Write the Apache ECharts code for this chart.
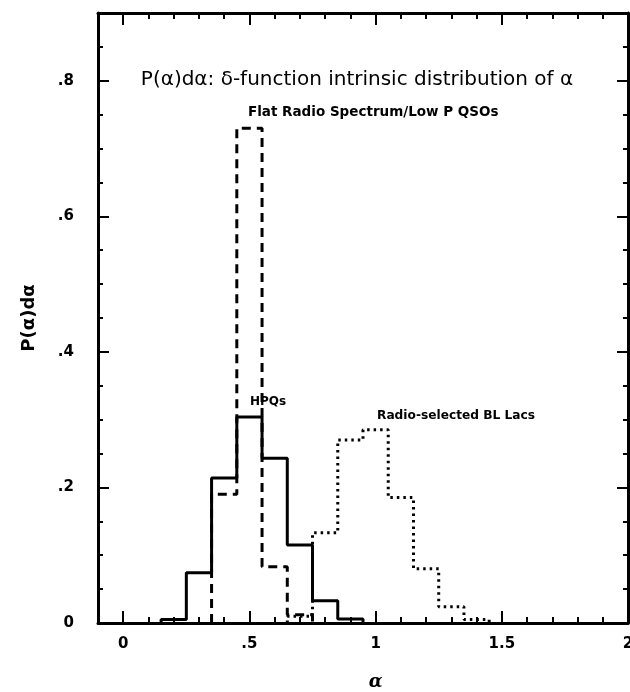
<!DOCTYPE html>
<html>
<head>
<meta charset="utf-8">
<script src="https://cdn.jsdelivr.net/npm/echarts@6/dist/echarts.min.js"></script>
<style>
  html, body { margin: 0; padding: 0; background: #fff; }
  #chart { width: 630px; height: 692px; }
</style>
</head>
<body>
<div id="chart"></div>
<script>
// Histogram bins: width 0.1, given by bin centres and heights
const binWidth = 0.1;

// HPQs (solid)
const hpqCenters = [0.2, 0.3, 0.4, 0.5, 0.6, 0.7, 0.8, 0.9];
const hpqValues  = [0.005, 0.074, 0.214, 0.304, 0.243, 0.115, 0.033, 0.006];

// Flat Radio Spectrum / Low P QSOs (dashed)
const flatCenters = [0.4, 0.5, 0.6, 0.7];
const flatValues  = [0.19, 0.73, 0.083, 0.012];

// Radio-selected BL Lacs (dotted)
const blCenters = [0.7, 0.8, 0.9, 1.0, 1.1, 1.2, 1.3, 1.4];
const blValues  = [0.01, 0.133, 0.27, 0.285, 0.185, 0.08, 0.024, 0.005];

// Axis tick labels
const xTickLabels = { '0': '0', '0.5': '.5', '1': '1', '1.5': '1.5', '2': '2' };
const yTickLabels = { '0': '0', '0.2': '.2', '0.4': '.4', '0.6': '.6', '0.8': '.8' };

const titleText = 'P(α)dα: δ-function intrinsic distribution of α';
const flatLabel = 'Flat Radio Spectrum/Low P QSOs';
const hpqLabel = 'HPQs';
const blLabel = 'Radio-selected BL Lacs';

// Turn bin centres/heights into an outline that a step line can trace
function histOutline(centers, values) {
  const pts = [[centers[0] - binWidth / 2, 0]];
  centers.forEach((c, i) => pts.push([c - binWidth / 2, values[i]]));
  const last = centers[centers.length - 1] + binWidth / 2;
  pts.push([last, 0]);
  return pts;
}

const INK = '#000';
const labelFont = { color: INK, fontFamily: 'DejaVu Sans', fontWeight: 'bold', fontSize: 15 };

const chart = echarts.init(document.getElementById('chart'), null, { renderer: 'canvas' });

// Frame grid spans -0.1..2; the data grid starts at alpha = 0
const frame = { left: 98, right: 2, top: 13, bottom: 69, outerBoundsMode: 'none' };
const x0px = frame.left + (0.1 / 2.1) * (630 - frame.left - frame.right);

function fmt(map) {
  return v => {
    const k = String(Math.round(v * 100) / 100);
    return map[k] !== undefined ? map[k] : '';
  };
}

const minorX = pos => ({
  type: 'value', gridIndex: 0, position: pos, min: -0.1, max: 2, interval: 0.1,
  axisLine: { show: true, onZero: false, lineStyle: { color: INK, width: 3 } },
  axisTick: { show: true, inside: true, length: 6, lineStyle: { color: INK, width: 2 } },
  axisLabel: { show: false }, splitLine: { show: false }
});
const majorX = (pos, labels) => ({
  type: 'value', gridIndex: 1, position: pos, min: 0, max: 2, interval: 0.5,
  axisLine: { show: false, onZero: false },
  axisTick: { show: true, inside: true, length: 12, lineStyle: { color: INK, width: 2 } },
  axisLabel: labels ? Object.assign({ show: true, margin: 14, formatter: fmt(xTickLabels) }, labelFont) : { show: false },
  splitLine: { show: false },
  name: labels ? 'α' : '', nameLocation: 'middle', nameGap: 50,
  nameTextStyle: { color: INK, fontFamily: 'DejaVu Serif', fontStyle: 'italic', fontWeight: 'bold', fontSize: 18 }
});
const minorY = pos => ({
  type: 'value', gridIndex: 0, position: pos, min: 0, max: 0.9, interval: 0.05,
  axisLine: { show: true, onZero: false, lineStyle: { color: INK, width: 3 } },
  axisTick: { show: true, inside: true, length: 5, lineStyle: { color: INK, width: 2 } },
  axisLabel: { show: false }, splitLine: { show: false }
});
const majorY = (pos, labels) => ({
  type: 'value', gridIndex: 0, position: pos, min: 0, max: 0.9, interval: 0.2,
  axisLine: { show: false, onZero: false },
  axisTick: { show: true, inside: true, length: 11, lineStyle: { color: INK, width: 2 } },
  axisLabel: labels ? Object.assign({ show: true, margin: 24, showMaxLabel: false, formatter: fmt(yTickLabels) }, labelFont) : { show: false },
  splitLine: { show: false },
  name: labels ? 'P(α)dα' : '', nameLocation: 'middle', nameGap: 60, nameRotate: 90,
  nameTextStyle: { color: INK, fontFamily: 'DejaVu Sans', fontWeight: 'bold', fontSize: 18 }
});

function histSeries(name, centers, values, type) {
  return {
    name, type: 'line', xAxisIndex: 2, yAxisIndex: 4, step: 'end',
    data: histOutline(centers, values), symbol: 'none', silent: true,
    lineStyle: { color: INK, width: 3, type: type, cap: 'butt' },
    animation: false
  };
}

chart.setOption({
  backgroundColor: '#fff',
  animation: false,
  title: {
    text: titleText, left: 352, top: 65, textAlign: 'center',
    textStyle: { color: INK, fontFamily: 'DejaVu Sans', fontWeight: 'normal', fontSize: 20 }
  },
  grid: [
    Object.assign({}, frame),
    { left: x0px, right: frame.right, top: frame.top, bottom: frame.bottom, outerBoundsMode: 'none' }
  ],
  xAxis: [minorX('bottom'), minorX('top'), majorX('bottom', true), majorX('top', false)],
  yAxis: [
    minorY('left'), minorY('right'), majorY('left', true), majorY('right', false),
    { type: 'value', gridIndex: 1, min: 0, max: 0.9, show: false }
  ],
  series: [
    histSeries(hpqLabel, hpqCenters, hpqValues, 'solid'),
    histSeries(flatLabel, flatCenters, flatValues, [9, 6]),
    histSeries(blLabel, blCenters, blValues, [2.5, 4])
  ],
  graphic: [
    { type: 'text', left: 248, top: 105, style: { text: flatLabel, fill: INK, font: 'bold 13.5px "DejaVu Sans"' } },
    { type: 'text', left: 250, top: 396, style: { text: hpqLabel, fill: INK, font: 'bold 12px "DejaVu Sans"' } },
    { type: 'text', left: 377, top: 410, style: { text: blLabel, fill: INK, font: 'bold 12.2px "DejaVu Sans"' } }
  ]
});
</script>
</body>
</html>
